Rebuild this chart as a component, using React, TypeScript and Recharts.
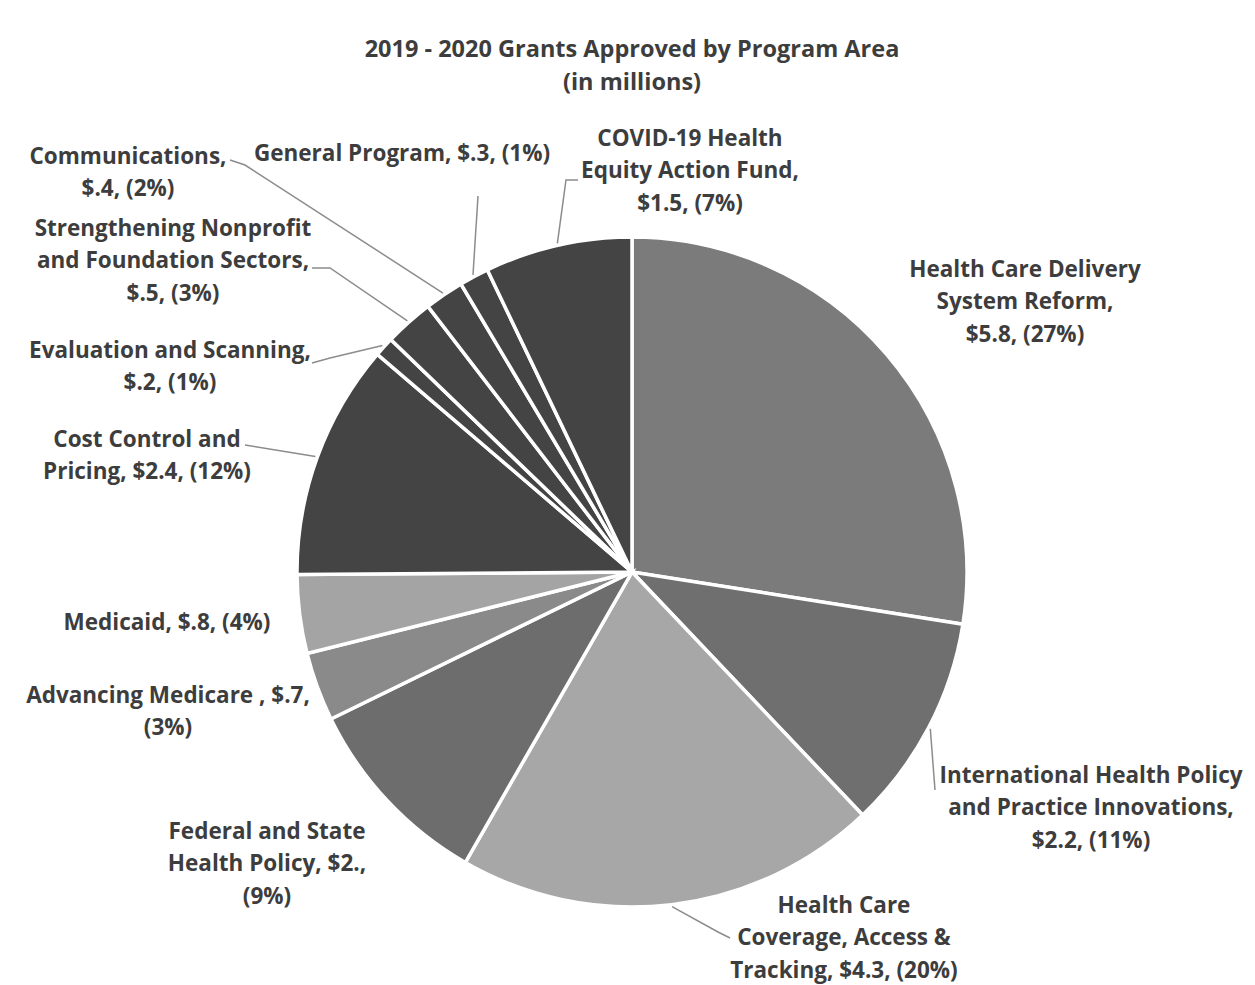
import React from 'react';
import { PieChart, Pie, Cell } from 'recharts';

// program areas, clockwise from 12 o'clock
const AREAS = [
  'Health Care Delivery System Reform',
  'International Health Policy and Practice Innovations',
  'Health Care Coverage, Access & Tracking',
  'Federal and State Health Policy',
  'Advancing Medicare',
  'Medicaid',
  'Cost Control and Pricing',
  'Evaluation and Scanning',
  'Strengthening Nonprofit and Foundation Sectors',
  'Communications',
  'General Program',
  'COVID-19 Health Equity Action Fund',
];

// grants approved, $ millions
const AMOUNTS = [5.8, 2.2, 4.3, 2.0, 0.7, 0.8, 2.4, 0.2, 0.5, 0.4, 0.3, 1.5];

// label text as printed on the chart
const LABEL_LINES: string[][] = [
  ['Health Care Delivery', 'System Reform,', '$5.8, (27%)'],
  ['International Health Policy', 'and Practice Innovations,', '$2.2, (11%)'],
  ['Health Care', 'Coverage, Access &', 'Tracking, $4.3, (20%)'],
  ['Federal and State', 'Health Policy, $2.,', '(9%)'],
  ['Advancing Medicare , $.7,', '(3%)'],
  ['Medicaid, $.8, (4%)'],
  ['Cost Control and', 'Pricing, $2.4, (12%)'],
  ['Evaluation and Scanning,', '$.2, (1%)'],
  ['Strengthening Nonprofit', 'and Foundation Sectors,', '$.5, (3%)'],
  ['Communications,', '$.4, (2%)'],
  ['General Program, $.3, (1%)'],
  ['COVID-19 Health', 'Equity Action Fund,', '$1.5, (7%)'],
];

const COLORS = [
  '#7b7b7b', '#6f6f6f', '#a7a7a7', '#6d6d6d', '#8a8a8a', '#a4a4a4',
  '#444444', '#444444', '#444444', '#444444', '#444444', '#444444',
];

// where each label sits (centre of first line) and its leader line bends
const LABEL_LAYOUT: { x: number; y: number; leader?: [number, number][] }[] = [
  { x: 1025, y: 268 },
  { x: 1091, y: 774, leader: [[935, 790]] },
  { x: 844, y: 904, leader: [[718, 932], [730, 938]] },
  { x: 267, y: 830 },
  { x: 168, y: 694 },
  { x: 167, y: 621 },
  { x: 147, y: 438, leader: [[245, 445]] },
  { x: 170, y: 349, leader: [[330, 358], [312, 363]] },
  { x: 173, y: 227, leader: [[330, 268], [312, 268]] },
  { x: 128, y: 155, leader: [[245, 165], [230, 160]] },
  { x: 402, y: 152, leader: [[478, 196]] },
  { x: 690, y: 137, leader: [[566, 180], [578, 180]] },
];

const data = AREAS.map((name, i) => ({ name, value: AMOUNTS[i] }));

const RAD = Math.PI / 180;
const TEXT = '#3d3d3d';
const FONT = '"Open Sans", Lato, sans-serif';
const LINE_H = 32.5;

const renderLabel = (props: any) => {
  const { cx, cy, midAngle, outerRadius, index } = props;
  const layout = LABEL_LAYOUT[index];
  const lines = LABEL_LINES[index];
  let leader = null;
  if (layout.leader) {
    const sx = cx + (outerRadius + 2) * Math.cos(-midAngle * RAD);
    const sy = cy + (outerRadius + 2) * Math.sin(-midAngle * RAD);
    const pts = [[sx, sy], ...layout.leader].map((p) => p.join(',')).join(' ');
    leader = <polyline points={pts} fill="none" stroke="#8c8c8c" strokeWidth={1.5} />;
  }
  return (
    <g key={`label-${index}`}>
      {leader}
      <text
        x={layout.x}
        y={layout.y}
        textAnchor="middle"
        fill={TEXT}
        fontFamily={FONT}
        fontWeight={700}
        fontSize={22.5}
      >
        {lines.map((line, j) => (
          <tspan key={j} x={layout.x} y={layout.y + j * LINE_H} dominantBaseline="central">
            {line}
          </tspan>
        ))}
      </text>
    </g>
  );
};

const App: React.FC = () => {
  return (
    <div style={{ position: 'absolute', left: 0, top: 0, width: 1255, height: 985, background: '#fff' }}>
      <PieChart width={1255} height={985} margin={{ top: 0, right: 0, bottom: 0, left: 0 }}>
        <text x={632} y={48} textAnchor="middle" dominantBaseline="central" fill={TEXT} fontFamily={FONT} fontWeight={700} fontSize={23.5}>
          2019 - 2020 Grants Approved by Program Area
        </text>
        <text x={632} y={81} textAnchor="middle" dominantBaseline="central" fill={TEXT} fontFamily={FONT} fontWeight={700} fontSize={23.5}>
          (in millions)
        </text>
        <Pie
          data={data}
          dataKey="value"
          nameKey="name"
          cx={632}
          cy={572}
          outerRadius={335}
          startAngle={90}
          endAngle={-270}
          stroke="#ffffff"
          strokeWidth={3.5}
          label={renderLabel}
          labelLine={false}
          isAnimationActive={false}
        >
          {data.map((entry, i) => (
            <Cell key={`cell-${entry.name}`} fill={COLORS[i]} />
          ))}
        </Pie>
      </PieChart>
    </div>
  );
};

export default App;
